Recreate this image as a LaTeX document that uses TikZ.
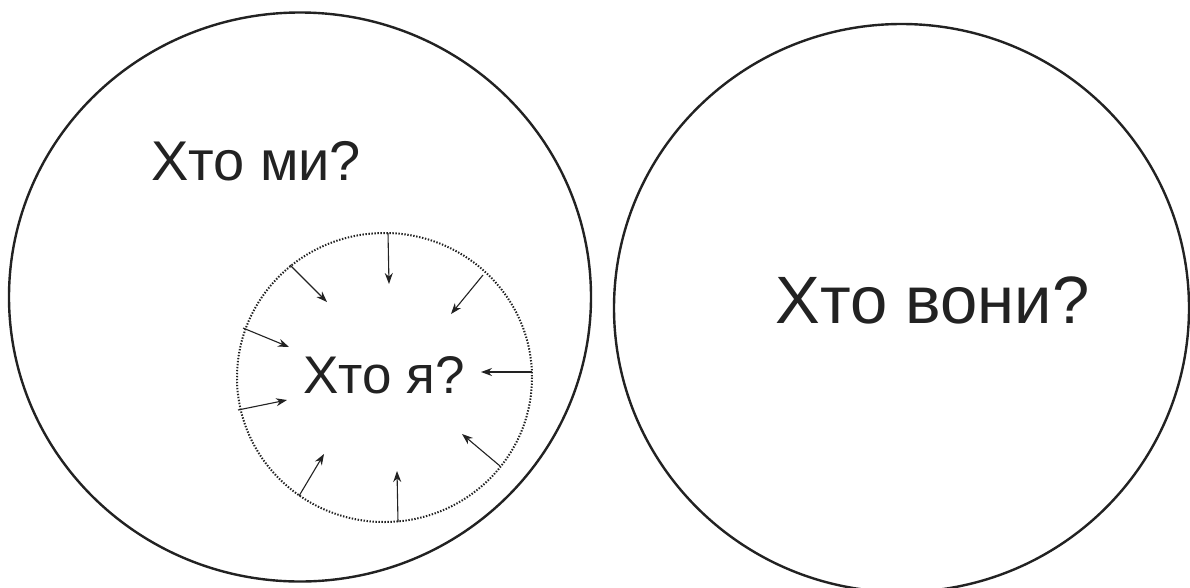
\documentclass[tikz,border=0pt]{standalone}
\usepackage{fontspec}
\setmainfont{Liberation Sans}
\usetikzlibrary{arrows.meta}
\definecolor{ink}{HTML}{222222}
\tikzset{
  outer/.style={draw=ink, line width=2.4pt},
  inner/.style={draw=ink, line width=2pt, dash pattern=on 1.4pt off 1.6pt},
  push/.style={draw=ink, line width=1.1pt, -{Stealth[length=11pt,width=8pt]}},
  lbl/.style={text=ink, anchor=base, inner sep=0pt}
}
\begin{document}
\begin{tikzpicture}[x=1pt,y=-1pt]
\useasboundingbox (0,0) rectangle (1190,587);
\fill[white] (0,0) rectangle (1190,587);
% outer circles
\coordinate (us) at (300,297);
\coordinate (them) at (901.5,308);
\coordinate (me) at (384.5,377.5);
\draw[outer] (us) ellipse [x radius=291, y radius=284.5];
\draw[outer] (them) ellipse [x radius=287.5, y radius=284];
\draw[inner] (me) ellipse [x radius=147.5, y radius=144.5];
% texts
\node[lbl, font=\fontsize{56}{60}\selectfont] (tus) at (256,180) {Хто ми?};
\node[lbl, font=\fontsize{67}{70}\selectfont] (tthem) at (932.5,323) {Хто вони?};
\node[lbl, font=\fontsize{53}{56}\selectfont] (tme) at (384,393) {Хто я?};
% arrows
\coordinate (s1) at (388,233); \coordinate (e1) at (389,284);
\coordinate (s2) at (483,275); \coordinate (e2) at (451,314);
\coordinate (s3) at (532,372); \coordinate (e3) at (481,372);
\coordinate (s4) at (500,466); \coordinate (e4) at (462,434);
\coordinate (s5) at (398,522); \coordinate (e5) at (397,471);
\coordinate (s6) at (299,496); \coordinate (e6) at (324,454);
\coordinate (s7) at (238,410); \coordinate (e7) at (287,400);
\coordinate (s8) at (243,328); \coordinate (e8) at (289,347);
\coordinate (s9) at (290,265); \coordinate (e9) at (327,302);
\foreach \i in {1,...,9} { \draw[push] (s\i) -- (e\i); }
\end{tikzpicture}
\end{document}
